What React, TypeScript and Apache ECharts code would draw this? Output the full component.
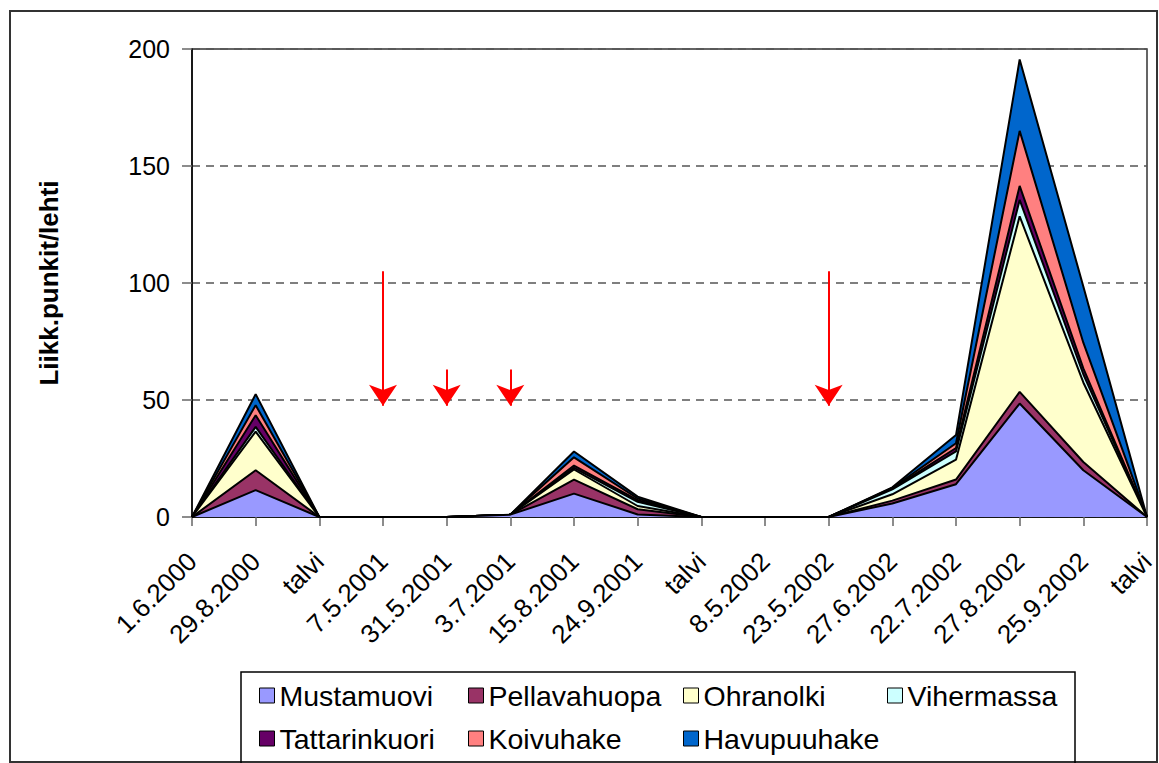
import React, { useEffect, useRef } from "react";
import * as echarts from "echarts";

// Sampling dates along the x axis ("talvi" = winter, no sampling)
const categories = [
  "1.6.2000", "29.8.2000", "talvi", "7.5.2001", "31.5.2001", "3.7.2001",
  "15.8.2001", "24.9.2001", "talvi", "8.5.2002", "23.5.2002", "27.6.2002",
  "22.7.2002", "27.8.2002", "25.9.2002", "talvi",
];

const seriesNames = [
  "Mustamuovi", "Pellavahuopa", "Ohranolki", "Vihermassa",
  "Tattarinkuori", "Koivuhake", "Havupuuhake",
];

const seriesColors = [
  "#9999FF", "#993366", "#FFFFCC", "#CCFFFF", "#660066", "#FF8080", "#0066CC",
];

// Stacked values per mulch type
const mustamuovi =    [0, 11.5, 0, 0, 0, 1, 10, 1.1, 0, 0, 0, 5.8, 14, 48.5, 20, 0];
const pellavahuopa =  [0, 8.5, 0, 0, 0, 0, 6, 2.2, 0, 0, 0, 1.2, 2, 5, 3.5, 0];
const ohranolki =     [0, 16.5, 0, 0, 0, 0, 4.3, 1.4, 0, 0, 0, 2.7, 8.5, 75, 34, 0];
const vihermassa =    [0, 2, 0, 0, 0, 0, 0.7, 1.8, 0, 0, 0, 2.1, 3.5, 7, 3.5, 0];
const tattarinkuori = [0, 5, 0, 0, 0, 0, 1, 0.7, 0, 0, 0, 0.3, 1.5, 6, 2.5, 0];
const koivuhake =     [0, 4.3, 0, 0, 0, 0, 3.5, 0.7, 0, 0, 0, 0.3, 2, 23.5, 11, 0];
const havupuuhake =   [0, 4.7, 0, 0, 0, 0, 2.5, 0.8, 0, 0, 0, 0.3, 3.5, 30.5, 24, 0];

const seriesValues = [
  mustamuovi, pellavahuopa, ohranolki, vihermassa,
  tattarinkuori, koivuhake, havupuuhake,
];

// Red arrows marking treatment dates
const arrowCategories = ["7.5.2001", "31.5.2001", "3.7.2001", "23.5.2002"];
const arrowStarts = [105, 63, 63, 105];
const arrowEnd = 47.5;

const yTicks = { min: 0, max: 200, interval: 50 };

const FONT = '"Liberation Sans", Arial, sans-serif';

// Legend item anchors (two rows, four columns)
const legendSlots = [
  [259, 681], [468, 681], [683, 681], [887, 681],
  [259, 724], [468, 724], [683, 724],
];

export default function App() {
  const ref = useRef<HTMLDivElement>(null);

  useEffect(() => {
    if (!ref.current) return;
    const chart = echarts.init(ref.current, null, { renderer: "svg" });

    const n = seriesNames.length;
    const series = seriesNames.map((name, i) => {
      const s: any = {
        name,
        type: "line",
        stack: "total",
        data: seriesValues[i],
        showSymbol: false,
        symbol: "none",
        z: 2 + (n - i),
        lineStyle: { color: "#000", width: 2 },
        itemStyle: { color: seriesColors[i] },
        areaStyle: { color: seriesColors[i], opacity: 1 },
        emphasis: { disabled: true },
      };
      if (i === n - 1) {
        s.markLine = {
          silent: true,
          symbol: ["none", "arrow"],
          symbolSize: 21,
          label: { show: false },
          lineStyle: { color: "#FF0000", width: 2, type: "solid" },
          itemStyle: { color: "#FF0000" },
          data: arrowCategories.map((c, k) => [
            { coord: [categories.indexOf(c), arrowStarts[k]] },
            { coord: [categories.indexOf(c), arrowEnd] },
          ]),
        };
      }
      return s;
    });

    const legends = seriesNames.map((name, i) => ({
      left: legendSlots[i][0],
      top: legendSlots[i][1],
      padding: 0,
      itemWidth: 15,
      itemHeight: 15,
      selectedMode: false,
      textStyle: { fontSize: 28.5, color: "#000", fontFamily: FONT },
      data: [
        {
          name,
          icon: "rect",
          itemStyle: { color: seriesColors[i], borderColor: "#000", borderWidth: 1 },
        },
      ],
    }));

    chart.setOption({
      animation: false,
      backgroundColor: "#fff",
      textStyle: { fontFamily: FONT },
      grid: {
        left: 192,
        right: 12,
        top: 49,
        bottom: 246,
        show: true,
        borderColor: "#333",
        borderWidth: 1.5,
      },
      legend: legends,
      xAxis: {
        type: "category",
        data: categories,
        boundaryGap: false,
        axisLine: { lineStyle: { color: "#000", width: 1.5 } },
        axisTick: { show: true, length: 9, interval: 0, lineStyle: { color: "#666", width: 1.5 } },
        axisLabel: {
          rotate: 45,
          interval: 0,
          fontSize: 26,
          color: "#000",
          margin: 40,
          fontFamily: FONT,
        },
      },
      yAxis: {
        type: "value",
        min: yTicks.min,
        max: yTicks.max,
        interval: yTicks.interval,
        name: "Liikk.punkit/lehti",
        nameLocation: "middle",
        nameGap: 130,
        nameTextStyle: { fontSize: 26, fontWeight: "bold", color: "#000", fontFamily: FONT },
        axisLine: { show: true, lineStyle: { color: "#000", width: 1.5 } },
        axisTick: { show: true, length: 10, lineStyle: { color: "#666", width: 1.5 } },
        axisLabel: { fontSize: 25, color: "#000", margin: 22, fontFamily: FONT },
        splitLine: { show: true, lineStyle: { color: "#555", type: [8, 6], width: 1.5 } },
      },
      graphic: [
        {
          type: "rect",
          silent: true,
          shape: { x: 10, y: 11, width: 1147, height: 751 },
          style: { fill: "none", stroke: "#333", lineWidth: 2 },
          z: 100,
        },
        {
          type: "rect",
          silent: true,
          shape: { x: 241, y: 672, width: 834, height: 93 },
          style: { fill: "none", stroke: "#000", lineWidth: 1.5 },
          z: 100,
        },
      ],
      series,
    });

    return () => chart.dispose();
  }, []);

  return (
    <div
      ref={ref}
      style={{ position: "absolute", left: 0, top: 0, width: 1159, height: 763 }}
    />
  );
}
